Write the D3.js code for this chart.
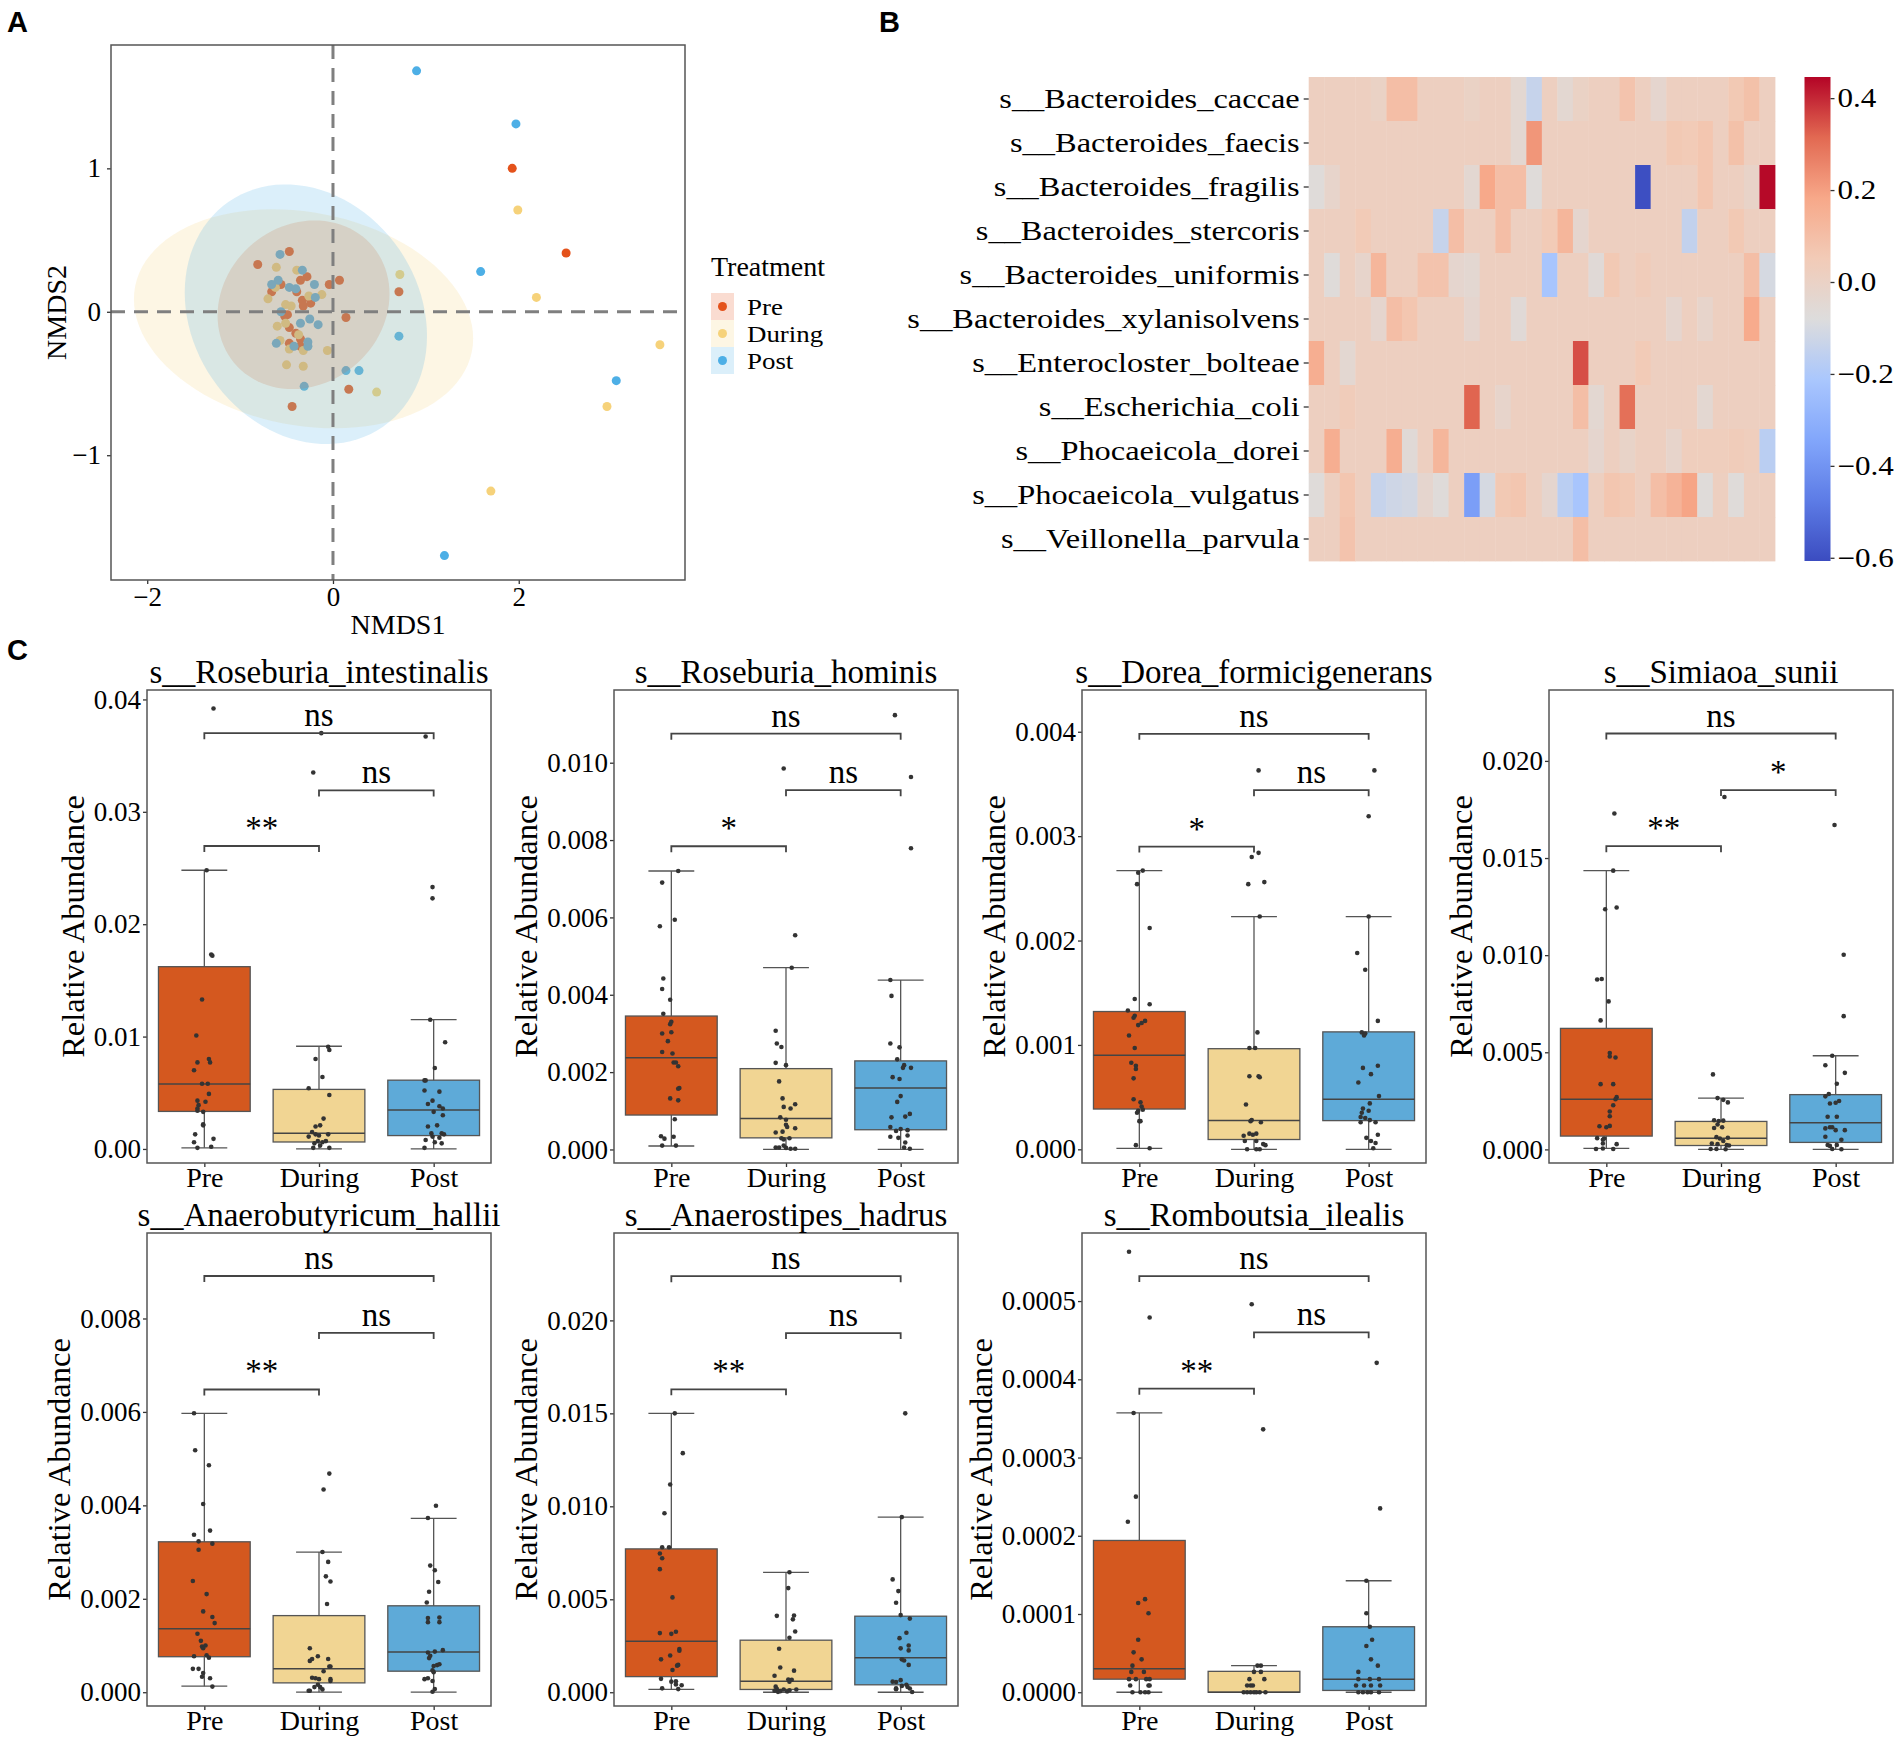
<!DOCTYPE html>
<html>
<head>
<meta charset="utf-8">
<script src="https://cdn.jsdelivr.net/npm/d3@7"></script>
<style>
  body { margin: 0; background: #fff; }
</style>
</head>
<body>
<svg id="fig" width="1902" height="1745"></svg>
<script>
// ---------- data : panel A (NMDS) ----------
var groups = ["Pre", "During", "Post"];
var nmdsPre = [[-0.47,0.42],[-0.81,0.33],[-0.28,0.245],[-0.35,0.22],[-0.56,0.19],[0.07,0.22],[-0.04,0.19],
  [-0.66,0.14],[-0.39,0.14],[-0.33,0.08],[-0.24,0.06],[-0.32,0.04],[-0.49,-0.02],[0.14,-0.04],[-0.52,-0.03],
  [-0.47,-0.11],[-0.40,-0.15],[-0.35,-0.19],[-0.47,-0.22],[-0.35,-0.24],[0.71,0.14],[0.17,-0.54],[-0.44,-0.66],
  [1.93,1.00],[2.51,0.41]];
var nmdsDuring = [[-0.61,0.31],[-0.39,0.29],[-0.62,0.17],[-0.70,0.09],[-0.51,0.05],[-0.45,0.04],[-0.12,0.12],
  [-0.26,0.11],[-0.60,-0.10],[-0.51,-0.08],[-0.37,-0.16],[-0.57,-0.20],[-0.47,-0.26],[-0.32,-0.27],[-0.06,-0.27],
  [-0.50,-0.37],[-0.32,-0.38],[0.72,0.26],[0.47,-0.56],[1.99,0.71],[2.19,0.10],[3.52,-0.23],[2.95,-0.66],[1.70,-1.25]];
var nmdsPost = [[-0.57,0.40],[-0.33,0.29],[-0.20,0.19],[-0.59,0.22],[-0.66,0.19],[-0.47,0.17],[-0.40,0.16],
  [-0.19,0.10],[-0.56,0.00],[-0.35,-0.08],[-0.25,-0.05],[-0.16,-0.09],[-0.61,-0.22],[-0.42,-0.24],[-0.27,-0.21],
  [-0.27,-0.24],[-0.31,-0.52],[0.14,-0.41],[0.28,-0.41],[0.71,-0.17],[0.90,1.68],[1.97,1.31],[1.59,0.28],
  [3.05,-0.48],[1.20,-1.70]];
// ellipse centre and covariance [sxx, sxy, syy] per group
var ellipseCenter = [[-0.317,0.049],[-0.317,-0.049],[-0.292,-0.017]];
var ellipseCov = [[0.857,0.07,0.3456],[3.335,-0.2506,0.583],[1.701,-0.197,0.819]];
var nmdsTicksX = [-2, 0, 2];
var nmdsTicksY = [-1, 0, 1];

// ---------- data : panel B (heatmap) ----------
var heatRows = ["s__Bacteroides_caccae","s__Bacteroides_faecis","s__Bacteroides_fragilis","s__Bacteroides_stercoris",
  "s__Bacteroides_uniformis","s__Bacteroides_xylanisolvens","s__Enterocloster_bolteae","s__Escherichia_coli",
  "s__Phocaeicola_dorei","s__Phocaeicola_vulgatus","s__Veillonella_parvula"];
var heatValues = [
  [0.02,0.02,0.02,0.02,0.0,0.1,0.1,0.02,0.02,0.02,0.0,0.02,0.02,-0.04,-0.14,0.02,-0.04,0.0,0.02,0.02,0.08,0.02,-0.03,0.02,0.02,0.02,0.02,0.06,0.09,0.02],
  [0.02,0.02,0.02,0.02,0.02,0.02,0.02,0.02,0.02,0.02,0.02,0.02,0.02,-0.04,0.22,0.02,0.02,0.02,0.02,0.02,0.02,0.02,0.02,0.06,0.05,0.07,0.02,0.09,0.02,0.02],
  [-0.07,-0.02,0.02,0.02,0.02,0.02,0.02,0.02,0.02,0.02,-0.04,0.18,0.1,0.1,-0.07,0.02,0.02,0.02,0.02,0.02,0.02,-0.6,0.02,0.02,0.02,0.07,0.02,0.02,-0.01,0.44],
  [0.02,0.02,0.02,0.05,0.02,0.02,0.02,0.02,-0.14,0.1,0.02,0.02,0.1,0.02,0.02,0.05,0.13,-0.03,0.02,0.02,0.02,0.02,0.02,0.02,-0.15,0.02,0.02,0.06,0.02,0.02],
  [0.02,-0.07,0.02,-0.02,0.13,0.02,0.02,0.08,0.08,-0.03,-0.04,0.02,0.02,0.02,0.02,-0.22,0.02,0.02,-0.06,0.06,0.02,0.04,0.02,0.02,0.02,0.02,0.02,0.02,0.1,-0.1],
  [0.02,0.02,0.02,0.02,-0.03,0.1,0.07,0.02,0.02,0.02,-0.03,0.02,0.02,-0.06,0.02,0.02,0.02,0.02,0.02,0.02,0.02,0.02,0.02,-0.03,0.02,-0.02,0.02,0.02,0.17,0.02],
  [0.16,0.02,-0.04,0.02,0.02,0.02,0.02,0.02,0.02,0.02,0.02,0.02,0.02,0.02,0.02,0.02,0.02,0.35,0.02,0.02,0.02,0.05,0.02,0.02,0.02,0.02,0.02,0.02,0.02,0.02],
  [0.02,0.02,0.04,0.02,0.02,0.02,0.02,0.02,0.02,0.02,0.32,0.02,-0.02,0.02,0.02,0.02,0.02,0.1,-0.04,0.02,0.3,0.02,0.02,0.02,0.02,-0.04,0.02,0.02,0.02,0.02],
  [0.02,0.16,0.02,0.02,0.02,0.16,-0.06,0.02,0.13,0.02,0.02,0.02,0.02,0.02,0.02,0.02,0.02,0.02,-0.03,0.02,-0.01,0.02,0.02,-0.02,0.03,0.03,0.03,0.04,0.03,-0.17],
  [-0.07,0.02,0.07,0.02,-0.14,-0.12,-0.11,-0.03,-0.07,0.02,-0.37,-0.1,0.06,0.07,0.02,-0.03,-0.17,-0.22,0.02,0.07,0.06,0.02,0.1,0.14,0.19,-0.07,0.02,-0.07,0.02,0.02],
  [0.02,0.02,0.08,0.02,0.02,0.02,0.02,0.02,0.02,0.02,0.02,0.02,0.02,0.02,0.02,0.02,0.02,0.1,0.02,0.02,0.02,0.02,0.02,0.02,0.02,0.02,0.02,0.02,0.02,0.02]
];
var heatRange = [-0.607, 0.446];
var colorbarTicks = [-0.6, -0.4, -0.2, 0.0, 0.2, 0.4];
// matplotlib "coolwarm" stops
var coolwarm = ["#3b4cc0","#5d7ce6","#82a6fb","#aac7fd","#dddcdc","#f2cbb7","#f7a889","#e26952","#b40426"];

// ---------- data : panel C (boxplots) ----------
var speciesC = ["s__Roseburia_intestinalis","s__Roseburia_hominis","s__Dorea_formicigenerans","s__Simiaoa_sunii",
  "s__Anaerobutyricum_hallii","s__Anaerostipes_hadrus","s__Romboutsia_ilealis"];
var yDomainC = [[-0.00125,0.04084],[-0.00035,0.01188],[-0.000131,0.0044],[-0.0007,0.02365],
  [-0.000295,0.00983],[-0.00074,0.0247],[-0.0000176,0.000587]];
var ticksC = [[0,0.01,0.02,0.03,0.04],[0,0.002,0.004,0.006,0.008,0.010],[0,0.001,0.002,0.003,0.004],
  [0,0.005,0.010,0.015,0.020],[0,0.002,0.004,0.006,0.008],[0,0.005,0.010,0.015,0.020],
  [0,0.0001,0.0002,0.0003,0.0004,0.0005]];
var decimalsC = [2,3,3,3,3,3,4];
// [lower whisker, Q1, median, Q3, upper whisker] for Pre, During, Post
var boxStats = [
  [[0.0001,0.00334,0.00577,0.01622,0.0248],[0,0.00062,0.0014,0.0053,0.00914],[0,0.00119,0.00346,0.00612,0.0115]],
  [[0.00009,0.00089,0.00237,0.00345,0.0072],[0,0.0003,0.0008,0.00209,0.0047],[0,0.00051,0.00159,0.00229,0.00438]],
  [[0.00001,0.000386,0.0009,0.00132,0.00267],[0,0.000094,0.000275,0.000964,0.00223],[0,0.000275,0.00048,0.001125,0.00223]],
  [[0.00005,0.000686,0.00258,0.00623,0.01435],[0,0.0002,0.00058,0.00144,0.00264],[0,0.00036,0.00137,0.00282,0.00482]],
  [[0.00013,0.00076,0.00136,0.00322,0.00597],[0,0.0002,0.0005,0.00164,0.003],[0,0.00045,0.00086,0.00185,0.00372]],
  [[0.00015,0.00084,0.00274,0.00771,0.015],[0,0.00015,0.00059,0.0028,0.00645],[0,0.0004,0.00185,0.00409,0.00942]],
  [[0,0.0000167,0.0000299,0.000194,0.000357],[0,0,0,0.0000267,0.000034],[0,0.0000023,0.0000167,0.0000837,0.0001425]]
];
// brackets: Pre-During, During-Post, Pre-Post
var bracketY = [[0.02696,0.0319,0.037],[0.00784,0.00929,0.01075],[0.0029,0.00344,0.00398],[0.01561,0.0185,0.02141],
  [0.00648,0.00769,0.00891],[0.01629,0.01932,0.02238],[0.000388,0.00046,0.000532]];
var sigLabels = [["**","ns","ns"],["*","ns","ns"],["*","ns","ns"],["**","*","ns"],["**","ns","ns"],["**","ns","ns"],["**","ns","ns"]];
// jittered samples: [value, horizontal jitter in category units]
var pointsC = [
  [ // Roseburia intestinalis
    [[0.0392,0.08],[0.0248,0.02],[0.0173,0.06],[0.0172,0.07],[0.0133,-0.02],[0.0101,-0.07],[0.0077,-0.06],[0.0080,0.04],[0.0077,0.05],[0.0070,-0.09],[0.0058,-0.02],[0.0058,0.03],[0.0049,0.04],[0.0043,-0.06],[0.0039,-0.05],[0.0042,0.01],[0.0036,-0.06],[0.0034,-0.06],[0.0033,-0.01],[0.0022,-0.01],[0.0021,-0.01],[0.0013,-0.08],[0.0006,-0.09],[0.0009,0.08],[0.0001,-0.06],[0.0002,0.06]],
    [[0.0335,-0.05],[0.0370,0.02],[0.0091,0.08],[0.0088,0.09],[0.0080,-0.03],[0.0064,0.03],[0.0054,-0.09],[0.0048,0.09],[0.0027,0.04],[0.0021,0.01],[0.0020,-0.03],[0.0015,-0.06],[0.0013,-0.03],[0.0011,-0.09],[0.0012,0.00],[0.0013,0.08],[0.0007,-0.01],[0.0006,0.03],[0.0007,0.06],[0.0005,-0.04],[0.0003,0.01],[0.0001,0.09],[0.0001,-0.05]],
    [[0.0367,-0.07],[0.0233,-0.01],[0.0223,-0.01],[0.0115,-0.03],[0.0095,0.10],[0.0072,0.01],[0.0061,-0.08],[0.0061,-0.07],[0.0052,-0.08],[0.0051,0.05],[0.0043,-0.01],[0.0040,-0.05],[0.0038,0.05],[0.0036,0.08],[0.0033,0.00],[0.0030,0.08],[0.0020,-0.05],[0.0021,0.03],[0.0014,-0.02],[0.0014,0.07],[0.0013,0.09],[0.0011,-0.01],[0.0010,0.05],[0.0008,-0.07],[0.0006,0.01],[0.0005,0.07],[0.0001,-0.08]]
  ],
  [ // Roseburia hominis
    [[0.0072,0.06],[0.0069,-0.08],[0.00594,0.03],[0.00577,-0.10],[0.00442,-0.07],[0.00415,-0.08],[0.00387,-0.01],[0.00351,-0.07],[0.0033,0.00],[0.00324,-0.01],[0.003,-0.08],[0.00303,0.00],[0.0028,-0.03],[0.00252,-0.08],[0.00248,0.01],[0.00225,0.02],[0.00225,0.04],[0.00215,0.06],[0.00159,0.07],[0.00157,0.06],[0.00132,-0.01],[0.00127,0.06],[0.00078,0.03],[0.00034,-0.09],[0.00028,-0.06],[0.00033,0.02],[0.0001,-0.08],[0.0001,0.04]],
    [[0.00985,-0.02],[0.00554,0.08],[0.0047,0.05],[0.00307,-0.09],[0.00274,-0.08],[0.00265,-0.04],[0.00224,-0.09],[0.00218,0.00],[0.00176,-0.06],[0.00132,-0.03],[0.0011,-0.02],[0.00117,0.08],[0.00106,0.04],[0.00083,-0.05],[0.00077,0.00],[0.00064,0.00],[0.00055,0.08],[0.00058,0.01],[0.00044,-0.09],[0.00046,-0.03],[0.00029,-0.04],[0.00026,-0.02],[0.00029,0.03],[0.00005,-0.09],[0.00005,-0.06],[0.0001,-0.02],[0.00004,0.00],[0.00002,0.04],[0.00002,0.08]],
    [[0.01123,-0.05],[0.00963,0.09],[0.00779,0.09],[0.00438,-0.09],[0.00397,-0.08],[0.00274,-0.09],[0.00264,-0.01],[0.00233,-0.03],[0.00218,0.03],[0.00211,0.02],[0.00211,0.09],[0.00187,-0.07],[0.00182,-0.01],[0.00138,0.00],[0.00123,-0.03],[0.00092,0.08],[0.00085,0.04],[0.00083,-0.08],[0.00058,-0.09],[0.00053,0.00],[0.0005,0.06],[0.00048,-0.04],[0.00033,-0.09],[0.0003,-0.02],[0.00036,0.06],[0.00018,0.04],[0.00005,0.03],[0.00002,0.08]]
  ],
  [ // Dorea formicigenerans
    [[0.00267,0.03],[0.00265,-0.01],[0.00254,-0.02],[0.00212,0.09],[0.00144,-0.04],[0.00139,0.09],[0.00133,-0.10],[0.00128,-0.04],[0.00126,-0.05],[0.00123,0.05],[0.00121,0.02],[0.00119,-0.01],[0.00109,-0.09],[0.00097,-0.04],[0.00083,-0.07],[0.0008,-0.03],[0.00077,-0.03],[0.00068,-0.05],[0.00048,-0.05],[0.00045,0.01],[0.00041,0.02],[0.00037,-0.01],[0.00035,-0.02],[0.00038,0.03],[0.00027,0.00],[0.00027,0.01],[0.00004,-0.03],[0.00001,0.09]],
    [[0.00363,0.04],[0.00284,0.04],[0.0028,-0.02],[0.00256,0.09],[0.00254,-0.05],[0.00223,0.05],[0.00112,0.03],[0.00097,-0.04],[0.00097,0.01],[0.0007,-0.04],[0.0007,0.04],[0.00069,0.05],[0.00043,-0.07],[0.00027,-0.03],[0.00028,-0.02],[0.00026,0.06],[0.00015,0.02],[0.00015,-0.04],[0.00014,-0.01],[0.00013,-0.09],[0.00008,-0.08],[0.00008,0.02],[0.00005,0.08],[0.00004,0.10],[0,-0.06],[0,0.02],[0,0.05]],
    [[0.00363,0.05],[0.00319,0.00],[0.00223,0.00],[0.00188,-0.10],[0.00172,-0.03],[0.00123,0.08],[0.00112,-0.06],[0.00109,-0.04],[0.00111,-0.03],[0.00078,-0.05],[0.0008,0.08],[0.00072,0.02],[0.00064,-0.09],[0.00044,0.01],[0.00051,0.09],[0.00039,-0.05],[0.00035,-0.06],[0.00037,0.00],[0.00031,-0.07],[0.0003,-0.03],[0.00028,0.01],[0.00026,-0.07],[0.00026,0.06],[0.00014,0.08],[0.00011,-0.02],[0.00008,0.02],[0.00006,0.06],[0.00001,0.04]]
  ],
  [ // Simiaoa sunii
    [[0.01729,0.07],[0.01435,0.06],[0.01236,-0.01],[0.01245,0.09],[0.00875,-0.08],[0.00877,-0.04],[0.00762,0.02],[0.00664,-0.05],[0.00496,0.03],[0.00478,0.03],[0.00473,0.08],[0.00336,-0.05],[0.00336,0.06],[0.00269,0.09],[0.00258,0.08],[0.00227,0.06],[0.00195,0.03],[0.00171,0.03],[0.00119,-0.06],[0.00114,0.00],[0.00121,0.03],[0.00058,-0.08],[0.0005,-0.03],[0.00056,-0.02],[0.0003,-0.03],[0.00027,0.09],[0.00002,-0.09],[0.00005,-0.03],[0.00002,0.06]],
    [[0.01814,0.03],[0.00386,-0.07],[0.00264,-0.03],[0.00255,0.02],[0.00242,0.06],[0.0015,-0.06],[0.00146,-0.02],[0.00148,0.02],[0.00128,-0.03],[0.0011,-0.06],[0.00114,0.01],[0.00063,-0.04],[0.00056,-0.01],[0.0006,0.06],[0.00043,0.02],[0.0003,-0.08],[0.00027,-0.03],[0.00022,0.05],[0.0002,0.07],[0.00002,-0.09],[0.00002,-0.04],[0.00001,0.04]],
    [[0.0167,-0.01],[0.01002,0.07],[0.00686,0.07],[0.00482,-0.03],[0.00433,-0.09],[0.00394,0.08],[0.00338,0.01],[0.00273,-0.09],[0.00285,-0.06],[0.00236,-0.05],[0.0024,0.00],[0.00249,0.03],[0.00168,-0.07],[0.00168,0.01],[0.00114,-0.05],[0.00114,-0.03],[0.00108,-0.09],[0.00099,0.00],[0.00099,0.08],[0.00065,-0.09],[0.0005,0.05],[0.00023,-0.07],[0.00018,-0.05],[0.00023,0.01],[0.00002,-0.03],[0.00001,0.05]]
  ],
  [ // Anaerobutyricum hallii
    [[0.00597,-0.09],[0.00518,-0.08],[0.00486,0.04],[0.00403,-0.01],[0.00337,-0.09],[0.00346,0.05],[0.00323,-0.05],[0.00318,0.07],[0.00305,-0.05],[0.00238,-0.10],[0.0021,0.02],[0.00173,-0.01],[0.00161,0.07],[0.00148,0.09],[0.00125,-0.06],[0.0011,-0.03],[0.00098,-0.02],[0.001,0.01],[0.00094,-0.01],[0.00077,-0.09],[0.00079,0.02],[0.00074,0.04],[0.0005,-0.10],[0.0005,-0.05],[0.00041,-0.01],[0.00033,-0.02],[0.0003,0.05],[0.00012,0.07]],
    [[0.00468,0.09],[0.00434,0.04],[0.003,0.03],[0.00279,0.08],[0.00248,0.06],[0.00237,0.10],[0.00189,0.07],[0.00094,-0.08],[0.00077,-0.01],[0.00067,-0.08],[0.00071,0.08],[0.00071,-0.06],[0.00055,0.09],[0.00055,0.10],[0.00045,0.04],[0.00031,-0.06],[0.0003,-0.03],[0.00028,0.00],[0.00028,0.10],[0.00024,0.10],[0.00016,-0.01],[0.00011,0.01],[0.00006,0.03],[0.00011,-0.04],[0.00003,-0.08],[0.00003,-0.09]],
    [[0.00399,0.02],[0.00373,-0.05],[0.00271,-0.03],[0.00261,0.01],[0.00236,0.04],[0.00215,-0.04],[0.00192,-0.06],[0.00159,-0.05],[0.0015,-0.05],[0.0016,0.05],[0.0015,0.05],[0.0009,0.08],[0.00087,0.01],[0.00085,-0.05],[0.00073,-0.04],[0.00078,-0.03],[0.00058,0.03],[0.0006,0.05],[0.00056,0.00],[0.00043,0.00],[0.00047,-0.01],[0.00028,-0.08],[0.0003,-0.05],[0.00024,-0.01],[0.00007,0.01],[0.00001,-0.01]]
  ],
  [ // Anaerostipes hadrus
    [[0.015,0.03],[0.01286,0.10],[0.01117,-0.01],[0.00963,-0.06],[0.0078,-0.08],[0.0078,-0.02],[0.00746,-0.10],[0.00721,-0.08],[0.00662,-0.10],[0.0051,0.01],[0.00318,-0.10],[0.00314,0.00],[0.00325,0.04],[0.00232,0.07],[0.00223,0.07],[0.00198,-0.01],[0.00177,-0.09],[0.00147,0.06],[0.00143,0.05],[0.0012,0.01],[0.00072,-0.09],[0.00057,0.00],[0.00059,0.04],[0.00042,0.04],[0.00038,0.09],[0.00021,-0.08],[0.00017,0.06]],
    [[0.00645,0.03],[0.0056,0.02],[0.00411,-0.08],[0.00413,0.07],[0.00392,0.06],[0.00327,0.08],[0.00293,0.03],[0.00234,-0.06],[0.00133,-0.05],[0.00116,0.07],[0.00089,-0.10],[0.00068,0.02],[0.00067,0.05],[0.00057,0.03],[0.0003,-0.09],[0.00018,-0.08],[0.00015,-0.02],[0.00015,0.09],[0.00008,-0.10],[0.00004,0.01],[0.00011,0.03],[0.00002,-0.07],[0.00006,-0.05]],
    [[0.015,0.04],[0.00942,0.01],[0.00607,-0.07],[0.00544,-0.02],[0.00481,-0.04],[0.00415,0.00],[0.00396,0.08],[0.0032,0.05],[0.00291,-0.01],[0.00251,0.07],[0.00236,0.00],[0.00225,0.07],[0.00177,0.01],[0.00171,0.03],[0.00147,0.07],[0.00057,-0.07],[0.00055,-0.04],[0.00065,0.00],[0.0004,0.05],[0.00034,0.01],[0.00021,-0.04],[0.0002,0.08],[0.00028,0.06],[0.00001,0.10],[0.00016,-0.04]]
  ],
  [ // Romboutsia ilealis
    [[0.000563,-0.09],[0.000479,0.09],[0.000357,-0.05],[0.00025,-0.03],[0.000218,-0.10],[0.000119,0.05],[0.000114,-0.01],[0.000101,0.08],[0.000067,-0.01],[0.000051,-0.05],[0.000042,0.02],[0.000034,-0.06],[0.000026,-0.07],[0.000026,0.04],[0.0000167,-0.09],[0.0000167,-0.03],[0.0000167,0.06],[0.0000167,0.09],[0.0000086,-0.08],[0.0000086,0.08],[0.0000086,0.09],[0,-0.06],[0,0.01],[0,0.05],[0,0.08]],
    [[0.000496,-0.02],[0.000336,0.08],[0.000034,0.03],[0.000034,0.06],[0.000026,0.00],[0.000026,0.06],[0.0000167,-0.04],[0.0000167,0.09],[0.0000086,-0.06],[0.0000086,-0.03],[0.0000086,-0.01],[0,-0.09],[0,-0.06],[0,-0.03],[0,0.00],[0,0.02],[0,0.05],[0,0.10]],
    [[0.000421,0.07],[0.000235,0.10],[0.0001425,-0.02],[0.000101,-0.02],[0.0000837,0.01],[0.000067,0.03],[0.000059,-0.02],[0.000042,0.02],[0.000034,0.08],[0.000026,-0.09],[0.0000167,-0.09],[0.0000167,0.01],[0.0000167,0.09],[0.0000086,-0.11],[0.0000086,-0.04],[0.0000086,0.02],[0.0000086,0.10],[0,-0.09],[0,-0.05],[0,-0.01],[0,0.02],[0,0.09]]
  ]
];

// ---------- colours ----------
var pointColors = ["#E4521B", "#F6D27A", "#4DAFE6"];
var boxColors = ["#D4581F", "#F1D593", "#5EAAD8"];

var serif = '"Liberation Serif", "Times New Roman", serif';
var svg = d3.select("#fig");

function styleAxis(g, size) {
  g.attr("font-size", size).attr("font-family", serif);
  g.select(".domain").remove();
  g.selectAll(".tick line").attr("stroke", "#333").attr("stroke-width", 1.3);
  g.selectAll(".tick text").attr("fill", "#000");
}
// the B panel text is wider than its font size suggests
function stretch(sel, k) {
  sel.each(function() {
    var w = this.getComputedTextLength();
    d3.select(this).attr("textLength", w * k).attr("lengthAdjust", "spacingAndGlyphs");
  });
}

// panel letters
[["A", 7, 32], ["B", 879, 32], ["C", 7, 660]].forEach(function(p) {
  svg.append("text").attr("x", p[1]).attr("y", p[2]).text(p[0])
    .attr("font-family", '"Liberation Sans", Arial, sans-serif').attr("font-weight", "bold").attr("font-size", 29);
});

// ================= Panel A =================
var aLeft = 111, aTop = 45, aW = 574, aH = 535;
var xA = d3.scaleLinear().domain([-2.39, 3.79]).range([aLeft, aLeft + aW]);
var yA = d3.scaleLinear().domain([-1.87, 1.86]).range([aTop + aH, aTop]);
var gA = svg.append("g");

gA.append("defs").append("clipPath").attr("id", "clipA")
  .append("rect").attr("x", aLeft).attr("y", aTop).attr("width", aW).attr("height", aH);

var nmdsSets = [nmdsPre, nmdsDuring, nmdsPost];
var plotA = gA.append("g").attr("clip-path", "url(#clipA)");
nmdsSets.forEach(function(set, i) {
  plotA.selectAll(null).data(set).enter().append("circle")
    .attr("cx", d => xA(d[0])).attr("cy", d => yA(d[1])).attr("r", 4.5)
    .attr("fill", pointColors[i]);
});
var tSteps = d3.range(0, 101).map(i => i / 100 * 2 * Math.PI);
ellipseCenter.forEach(function(c, i) {
  var cv = ellipseCov[i];
  var l11 = Math.sqrt(cv[0]), l21 = cv[1] / l11, l22 = Math.sqrt(cv[2] - l21 * l21);
  var line = d3.line()
    .x(t => xA(c[0] + l11 * Math.cos(t)))
    .y(t => yA(c[1] + l21 * Math.cos(t) + l22 * Math.sin(t)));
  plotA.append("path").attr("d", line(tSteps)).attr("fill", pointColors[i]).attr("fill-opacity", 0.2);
});
plotA.append("line").attr("x1", xA(0)).attr("x2", xA(0)).attr("y1", aTop).attr("y2", aTop + aH)
  .attr("stroke", "#7f7f7f").attr("stroke-width", 3).attr("stroke-dasharray", "14,9");
plotA.append("line").attr("x1", aLeft).attr("x2", aLeft + aW).attr("y1", yA(0)).attr("y2", yA(0))
  .attr("stroke", "#7f7f7f").attr("stroke-width", 3).attr("stroke-dasharray", "14,9");

var fmtA = d => d < 0 ? "\u2212" + Math.abs(d) : String(d);
var axXA = gA.append("g").attr("transform", `translate(0,${aTop + aH})`)
  .call(d3.axisBottom(xA).tickValues(nmdsTicksX).tickSize(4).tickPadding(3).tickFormat(fmtA));
styleAxis(axXA, 27);
var axYA = gA.append("g").attr("transform", `translate(${aLeft},0)`)
  .call(d3.axisLeft(yA).tickValues(nmdsTicksY).tickSize(4).tickPadding(6).tickFormat(fmtA));
styleAxis(axYA, 27);
gA.append("rect").attr("x", aLeft).attr("y", aTop).attr("width", aW).attr("height", aH)
  .attr("fill", "none").attr("stroke", "#555").attr("stroke-width", 1.5);
gA.append("text").attr("x", aLeft + aW / 2).attr("y", 634).attr("text-anchor", "middle")
  .attr("font-family", serif).attr("font-size", 28).text("NMDS1");
gA.append("text").attr("transform", `translate(66,${aTop + aH / 2}) rotate(-90)`).attr("text-anchor", "middle")
  .attr("font-family", serif).attr("font-size", 28).text("NMDS2");

// legend
var leg = gA.append("g").attr("transform", "translate(711,276)");
leg.append("text").attr("font-family", serif).attr("font-size", 28).text("Treatment");
groups.forEach(function(gname, i) {
  var ky = 17 + i * 27;
  leg.append("rect").attr("x", 0).attr("y", ky).attr("width", 23).attr("height", 27)
    .attr("fill", pointColors[i]).attr("fill-opacity", 0.2);
  leg.append("circle").attr("cx", 11.5).attr("cy", ky + 13.5).attr("r", 4.5).attr("fill", pointColors[i]);
  leg.append("text").attr("x", 36).attr("y", ky + 13.5).attr("dy", "0.35em")
    .attr("font-family", serif).attr("font-size", 24).text(gname);
});
stretch(leg.selectAll("text").filter((d, i) => i > 0), 1.12);

// ================= Panel B =================
var hLeft = 1308.7, hRight = 1775, hTop = 77, hBottom = 561;
var xB = d3.scaleBand().domain(d3.range(heatValues[0].length)).range([hLeft, hRight]);
var yB = d3.scaleBand().domain(heatRows).range([hTop, hBottom]);
var colorB = d3.scaleLinear()
  .domain(coolwarm.map((c, i) => heatRange[0] + i / (coolwarm.length - 1) * (heatRange[1] - heatRange[0])))
  .range(coolwarm).interpolate(d3.interpolateRgb).clamp(true);
var gB = svg.append("g");
heatValues.forEach(function(row, r) {
  gB.selectAll(null).data(row).enter().append("rect")
    .attr("x", (d, c) => xB(c)).attr("y", yB(heatRows[r]))
    .attr("width", xB.bandwidth() + 0.4).attr("height", yB.bandwidth() + 0.4)
    .attr("fill", d => colorB(d));
});
var axB = gB.append("g").attr("transform", `translate(${hLeft},0)`)
  .call(d3.axisLeft(yB).tickSize(5).tickPadding(4));
styleAxis(axB, 27);
stretch(axB.selectAll(".tick text"), 1.2);

// colorbar
var cbX = 1804.5, cbW = 26;
var cbScale = d3.scaleLinear().domain(heatRange).range([hBottom, hTop]);
var grad = svg.append("defs").append("linearGradient").attr("id", "cbGrad")
  .attr("x1", 0).attr("y1", 1).attr("x2", 0).attr("y2", 0);
d3.range(0, 41).forEach(function(i) {
  var v = heatRange[0] + i / 40 * (heatRange[1] - heatRange[0]);
  grad.append("stop").attr("offset", (i / 40 * 100) + "%").attr("stop-color", colorB(v));
});
gB.append("rect").attr("x", cbX).attr("y", hTop).attr("width", cbW).attr("height", hBottom - hTop)
  .attr("fill", "url(#cbGrad)");
var axCb = gB.append("g").attr("transform", `translate(${cbX + cbW},0)`)
  .call(d3.axisRight(cbScale).tickValues(colorbarTicks).tickSize(4).tickPadding(3).tickFormat(d3.format(".1f")));
styleAxis(axCb, 27);
stretch(axCb.selectAll(".tick text"), 1.15);

// ================= Panel C =================
var cW = 344, cH = 473;
var cLefts = [147, 614, 1082, 1549], cTops = [690, 1233];
speciesC.forEach(function(name, k) {
  var left = cLefts[k % 4], top = cTops[Math.floor(k / 4)];
  var g = svg.append("g").attr("transform", `translate(${left},${top})`);
  var x = d3.scalePoint().domain(groups).range([0, cW]).padding(0.5);
  var step = x.step();
  var y = d3.scaleLinear().domain(yDomainC[k]).range([cH, 0]);

  // boxes with whisker caps
  boxStats[k].forEach(function(s, i) {
    var cx = x(groups[i]);
    g.append("line").attr("x1", cx).attr("x2", cx).attr("y1", y(s[0])).attr("y2", y(s[4]))
      .attr("stroke", "#555").attr("stroke-width", 1.3);
    [s[0], s[4]].forEach(function(v) {
      g.append("line").attr("x1", cx - step * 0.2).attr("x2", cx + step * 0.2).attr("y1", y(v)).attr("y2", y(v))
        .attr("stroke", "#555").attr("stroke-width", 1.3);
    });
    g.append("rect").attr("x", cx - step * 0.4).attr("width", step * 0.8)
      .attr("y", y(s[3])).attr("height", Math.max(y(s[1]) - y(s[3]), 0.5))
      .attr("fill", boxColors[i]).attr("stroke", "#555").attr("stroke-width", 1.3);
    g.append("line").attr("x1", cx - step * 0.4).attr("x2", cx + step * 0.4).attr("y1", y(s[2])).attr("y2", y(s[2]))
      .attr("stroke", "#444").attr("stroke-width", 1.5);
  });

  // jittered samples
  pointsC[k].forEach(function(pts, i) {
    g.selectAll(null).data(pts).enter().append("circle")
      .attr("cx", d => x(groups[i]) + d[1] * step).attr("cy", d => y(d[0]))
      .attr("r", 2.3).attr("fill", "#333");
  });

  // significance brackets
  var pairs = [[0, 1], [1, 2], [0, 2]];
  pairs.forEach(function(p, j) {
    var x1 = x(groups[p[0]]), x2 = x(groups[p[1]]), yy = y(bracketY[k][j]);
    g.append("path").attr("d", `M${x1},${yy + 6}V${yy}H${x2}V${yy + 6}`)
      .attr("fill", "none").attr("stroke", "#444").attr("stroke-width", 1.8);
    g.append("text").attr("x", (x1 + x2) / 2).attr("y", yy - 7).attr("text-anchor", "middle")
      .attr("font-family", serif).attr("font-size", 33).text(sigLabels[k][j]);
  });

  // axes
  var ax = g.append("g").call(d3.axisLeft(y).tickValues(ticksC[k]).tickSize(4).tickPadding(2)
    .tickFormat(d3.format("." + decimalsC[k] + "f")));
  styleAxis(ax, 27);
  var axx = g.append("g").attr("transform", `translate(0,${cH})`)
    .call(d3.axisBottom(x).tickSize(4).tickPadding(0));
  styleAxis(axx, 28);

  g.append("rect").attr("width", cW).attr("height", cH)
    .attr("fill", "none").attr("stroke", "#555").attr("stroke-width", 1.5);

  g.append("text").attr("x", cW / 2).attr("y", -7).attr("text-anchor", "middle")
    .attr("font-family", serif).attr("font-size", 33).text(name);

  var bb = ax.node().getBBox();
  g.append("text").attr("transform", `translate(${bb.x - 10},${cH / 2}) rotate(-90)`)
    .attr("text-anchor", "middle").attr("font-family", serif).attr("font-size", 32.5)
    .text("Relative Abundance");
});
</script>
</body>
</html>
